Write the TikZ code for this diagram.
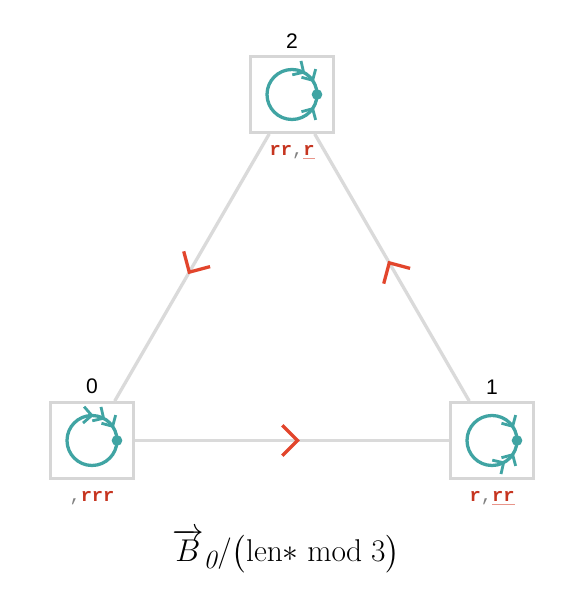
\documentclass[tikz,border=0pt]{standalone}
\usepackage{amsmath}
\usepackage{fontspec}
\setsansfont{Liberation Sans}
\setmonofont{Liberation Mono}
\usetikzlibrary{%
  arrows.meta,%
  positioning,% wg. " of "
  decorations.markings%
}

\definecolor{edgegray}{HTML}{DADADA}
\definecolor{boxgray}{HTML}{D6D6D6}
\definecolor{loopteal}{HTML}{40A4A3}
\definecolor{tipred}{HTML}{E2452C}
\definecolor{wordred}{HTML}{C63520}
\definecolor{ulred}{HTML}{E8958A}

\newcommand{\inv}[1]{{\color{ulred}\underline{\color{wordred}#1}}}
\newcommand{\wsep}{{\mdseries\color{gray},}}

\begin{document}
\begin{tikzpicture}
  [
  x=0.03cm, y=0.03cm, font=\sffamily,
  state/.style={rectangle, minimum width=2.49cm, minimum height=2.28cm, draw=boxgray, line width=2.4pt, fill=white},
  num/.style={font=\sffamily\fontsize{18}{18}\selectfont, inner sep=0pt, outer sep=0pt},
  word/.style={font=\ttfamily\bfseries\fontsize{16}{16}\selectfont, text=wordred, inner sep=0pt},
  link/.style={draw=edgegray, line width=2.8pt, postaction={decorate},
    decoration={markings, mark=at position 0.525 with {\arrow{Straight Barb[length=13pt, width=26pt, line width=2.8pt, color=tipred]}}}},
  loopy/.style={draw=loopteal, line width=2.8pt},
  cw/.style={postaction={decorate, decoration={markings, mark=at position #1 with {\arrowreversed{Straight Barb[length=7pt, width=14pt, line width=2.4pt, color=loopteal]}}}}},
  ccw/.style={postaction={decorate, decoration={markings, mark=at position #1 with {\arrow{Straight Barb[length=7pt, width=14pt, line width=2.4pt, color=loopteal]}}}}}
  ]
\useasboundingbox (0,0) rectangle (584,592);

\foreach \s/\px/\py in {0/92/151.5, 1/492/151.5, 2/292/497.5} {
  \node[state, label={[num, label distance=6pt]above:\s}] (s\s) at (\px,\py) {};
  \fill[loopteal] ([xshift=0.75cm]s\s.center) circle[radius=0.16cm];
}

\draw[loopy, cw=0.0833, cw=0.161, cw=0.239] (s0.center) circle[radius=0.75cm];
\draw[loopy, cw=0.0833, ccw=0.9167, ccw=0.839] (s1.center) circle[radius=0.75cm];
\draw[loopy, cw=0.0833, cw=0.161, ccw=0.9167] (s2.center) circle[radius=0.75cm];

\node[word, below=10pt of s0] (w0) {\wsep rrr};
\node[word, below=10pt of s1] (w1) {r\wsep\inv{rr}};
\node[word, below=10pt of s2] (w2) {rr\wsep\inv{r}};

\draw[link] (s0) -- (s1);
\draw[link] (s1) -- (s2);
\draw[link] (s2) -- (s0);

\node[font=\fontsize{24.88}{28}\selectfont, anchor=base, scale=1.08, transform shape] (title) at (286,30)
  {$\overrightarrow{B}_{\mathit{0}}/\bigl(\mathrm{len}{\ast}\bmod 3\bigr)$};

\end{tikzpicture}
\end{document}
